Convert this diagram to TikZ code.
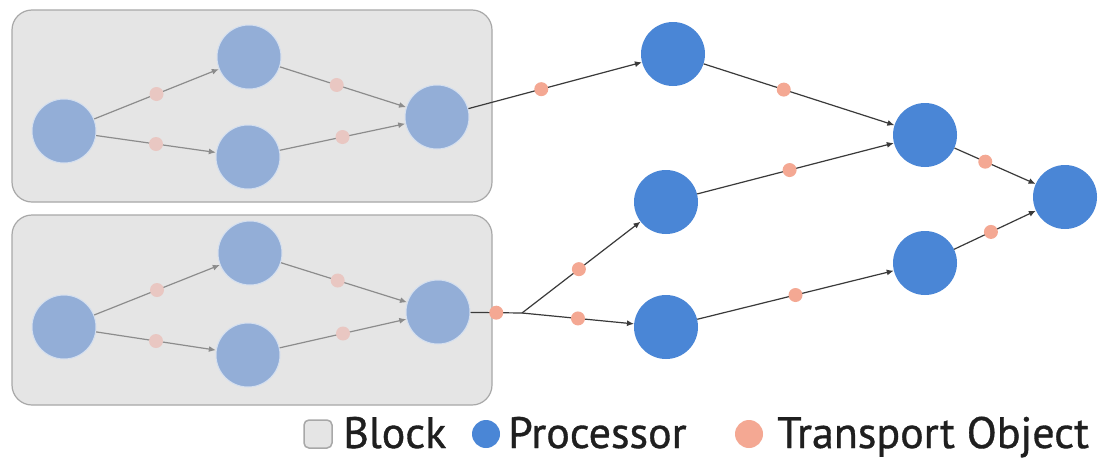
\documentclass[tikz,border=0pt]{standalone}
\usepackage{fontspec}
\setmainfont{PT Sans}
\newfontfamily\legfont[FakeBold=0.8]{PT Sans}
\usetikzlibrary{arrows.meta}
\definecolor{blockfill}{HTML}{E5E5E5}
\definecolor{blockdraw}{HTML}{A8A8A8}
\definecolor{procfill}{HTML}{4A86D6}
\definecolor{procfade}{HTML}{93AED7}
\definecolor{transfill}{HTML}{F4A893}
\definecolor{transfade}{HTML}{E9C7C2}
\definecolor{edgecol}{HTML}{3A3A3A}
\definecolor{edgefade}{HTML}{8C8C8C}
\tikzset{
  blockbox/.style={draw=blockdraw, line width=1.2pt, fill=blockfill, rounded corners=20pt},
  proc/.style={circle, fill=procfill, minimum size=64pt, inner sep=0pt},
  procf/.style={circle, fill=procfade, draw=procfade!40!white, line width=1pt, minimum size=64pt, inner sep=0pt},
  trans/.style={circle, fill=transfill, minimum size=14pt, inner sep=0pt},
  transf/.style={circle, fill=transfade, minimum size=14pt, inner sep=0pt},
  flow/.style={draw=edgecol, line width=1.2pt, -{Latex[length=7pt,width=6pt]}},
  flowf/.style={draw=edgefade, line width=1.2pt, -{Latex[length=7pt,width=6pt]}},
  plain/.style={draw=edgecol, line width=1.2pt},
  legtext/.style={font=\legfont\fontsize{44}{50}\selectfont, anchor=base west, inner sep=0pt, text=black!88}
}
\begin{document}
\begin{tikzpicture}[x=1pt,y=-1pt]
\useasboundingbox (0,0) rectangle (1099,461);
\fill[white] (0,0) rectangle (1099,461);
% blocks
\node[blockbox, minimum width=480pt, minimum height=192pt, inner sep=0pt] (blk1) at (252,106) {};
\node[blockbox, minimum width=480pt, minimum height=190pt, inner sep=0pt] (blk2) at (252,310) {};
% block 1 processors
\node[procf] (a1) at (64,131) {};
\node[procf] (a2) at (249,57) {};
\node[procf] (a3) at (248,157) {};
\node[procf] (a4) at (437,117) {};
% block 2 processors
\node[procf] (b1) at (64,327) {};
\node[procf] (b2) at (250,253) {};
\node[procf] (b3) at (248,355) {};
\node[procf] (b4) at (438,312) {};
% outer processors
\node[proc] (p1) at (673,54) {};
\node[proc] (p2) at (666,202) {};
\node[proc] (p3) at (666,327) {};
\node[proc] (p4) at (925,135) {};
\node[proc] (p5) at (925,263) {};
\node[proc] (p6) at (1065,197) {};
% junction
\coordinate (j) at (522,313);
% block 1 edges
\draw[flowf] (a1) -- node[transf, pos=0.5] (t1) {} (a2);
\draw[flowf] (a1) -- node[transf, pos=0.5] (t2) {} (a3);
\draw[flowf] (a2) -- node[transf, pos=0.45] (t3) {} (a4);
\draw[flowf] (a3) -- node[transf, pos=0.5] (t4) {} (a4);
% block 2 edges
\draw[flowf] (b1) -- node[transf, pos=0.5] (t5) {} (b2);
\draw[flowf] (b1) -- node[transf, pos=0.5] (t6) {} (b3);
\draw[flowf] (b2) -- node[transf, pos=0.45] (t7) {} (b4);
\draw[flowf] (b3) -- node[transf, pos=0.5] (t8) {} (b4);
% outer edges
\draw[flow] (a4) -- node[trans, pos=0.42] (t9) {} (p1);
\draw[flow] (p1) -- node[trans, pos=0.42] (t10) {} (p4);
\draw[flow] (p2) -- node[trans, pos=0.47] (t11) {} (p4);
\draw[flow] (p3) -- node[trans, pos=0.5] (t12) {} (p5);
\draw[flow] (p4) -- node[trans, pos=0.38] (t13) {} (p6);
\draw[flow] (p5) -- node[trans, pos=0.45] (t14) {} (p6);
\draw[plain] (b4) -- node[trans, pos=0.5] (t15) {} (j);
\draw[flow] (j) -- node[trans, pos=0.48] (t16) {} (p2);
\draw[flow] (j) -- node[trans, pos=0.5] (t17) {} (p3);
% legend
\node[draw=blockdraw, fill=blockfill, line width=1.5pt, rounded corners=5pt, minimum size=28pt, inner sep=0pt] (lgb) at (318,434) {};
\node[legtext] (lgbt) at (343,448) {Block};
\node[circle, fill=procfill, minimum size=28pt, inner sep=0pt] (lgp) at (486,434) {};
\node[legtext] (lgpt) at (508,448) {Processor};
\node[circle, fill=transfill, minimum size=28pt, inner sep=0pt] (lgt) at (749,434) {};
\node[legtext] (lgtt) at (777,448) {Transport Object};
\end{tikzpicture}
\end{document}
